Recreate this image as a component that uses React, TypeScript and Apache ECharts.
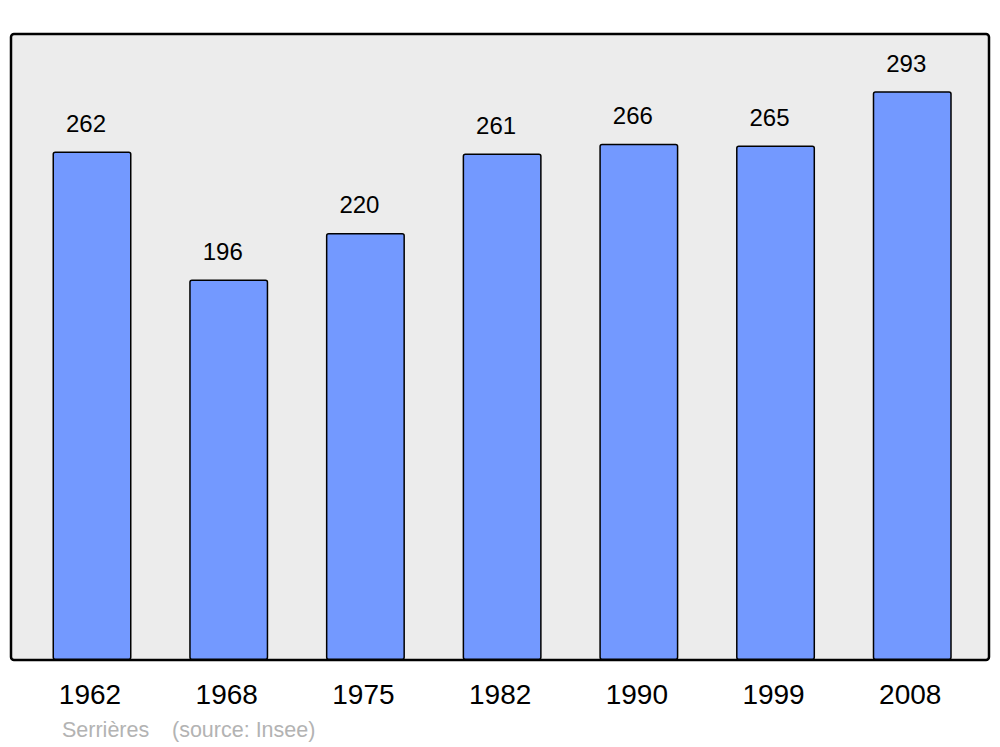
import React, { useEffect, useRef } from "react";
import * as echarts from "echarts";

const years = ["1962", "1968", "1975", "1982", "1990", "1999", "2008"];
const population = [262, 196, 220, 261, 266, 265, 293];
const footerPlace = "Serrières";
const footerSource = "(source: Insee)";

export default function App() {
  const ref = useRef<HTMLDivElement>(null);
  useEffect(() => {
    if (!ref.current) return;
    const chart = echarts.init(ref.current, undefined, { renderer: "svg" });
    chart.setOption({
      animation: false,
      graphic: [
        {
          type: "rect",
          z: -10,
          shape: { x: 11, y: 34, width: 978, height: 626, r: 3 },
          style: { fill: "#ececec", stroke: "#000", lineWidth: 2.5 },
        },
        {
          type: "text",
          x: 62,
          y: 730,
          style: {
            text: footerPlace,
            fill: "#b3b3b3",
            font: '21.5px "Liberation Sans", Arial, sans-serif',
            verticalAlign: "middle",
          },
        },
        {
          type: "text",
          x: 172,
          y: 730,
          style: {
            text: footerSource,
            fill: "#b3b3b3",
            font: '21.5px "Liberation Sans", Arial, sans-serif',
            verticalAlign: "middle",
          },
        },
      ],
      grid: { left: 23.65, right: 19.4, top: 34, bottom: 87 },
      xAxis: {
        type: "category",
        data: years,
        axisLine: { show: false },
        axisTick: { show: false },
        axisLabel: {
          color: "#000",
          fontSize: 28,
          fontFamily: "Liberation Sans",
          margin: 20,
          padding: [0, 4, 0, 0],
        },
      },
      yAxis: {
        type: "value",
        min: 0,
        max: 322.5,
        show: false,
        splitLine: { show: false },
      },
      series: [
        {
          type: "bar",
          data: population,
          barWidth: 79,
          itemStyle: {
            color: "#7399ff",
            borderColor: "#000",
            borderWidth: 1.5,
            borderRadius: 2,
          },
          label: {
            show: true,
            position: "top",
            distance: 16,
            offset: [-6, 0],
            color: "#000",
            fontSize: 24,
            fontFamily: "Liberation Sans",
          },
        },
      ],
    });
    return () => chart.dispose();
  }, []);
  return <div ref={ref} style={{ width: 1000, height: 747, position: "absolute", left: 0, top: 0 }} />;
}
